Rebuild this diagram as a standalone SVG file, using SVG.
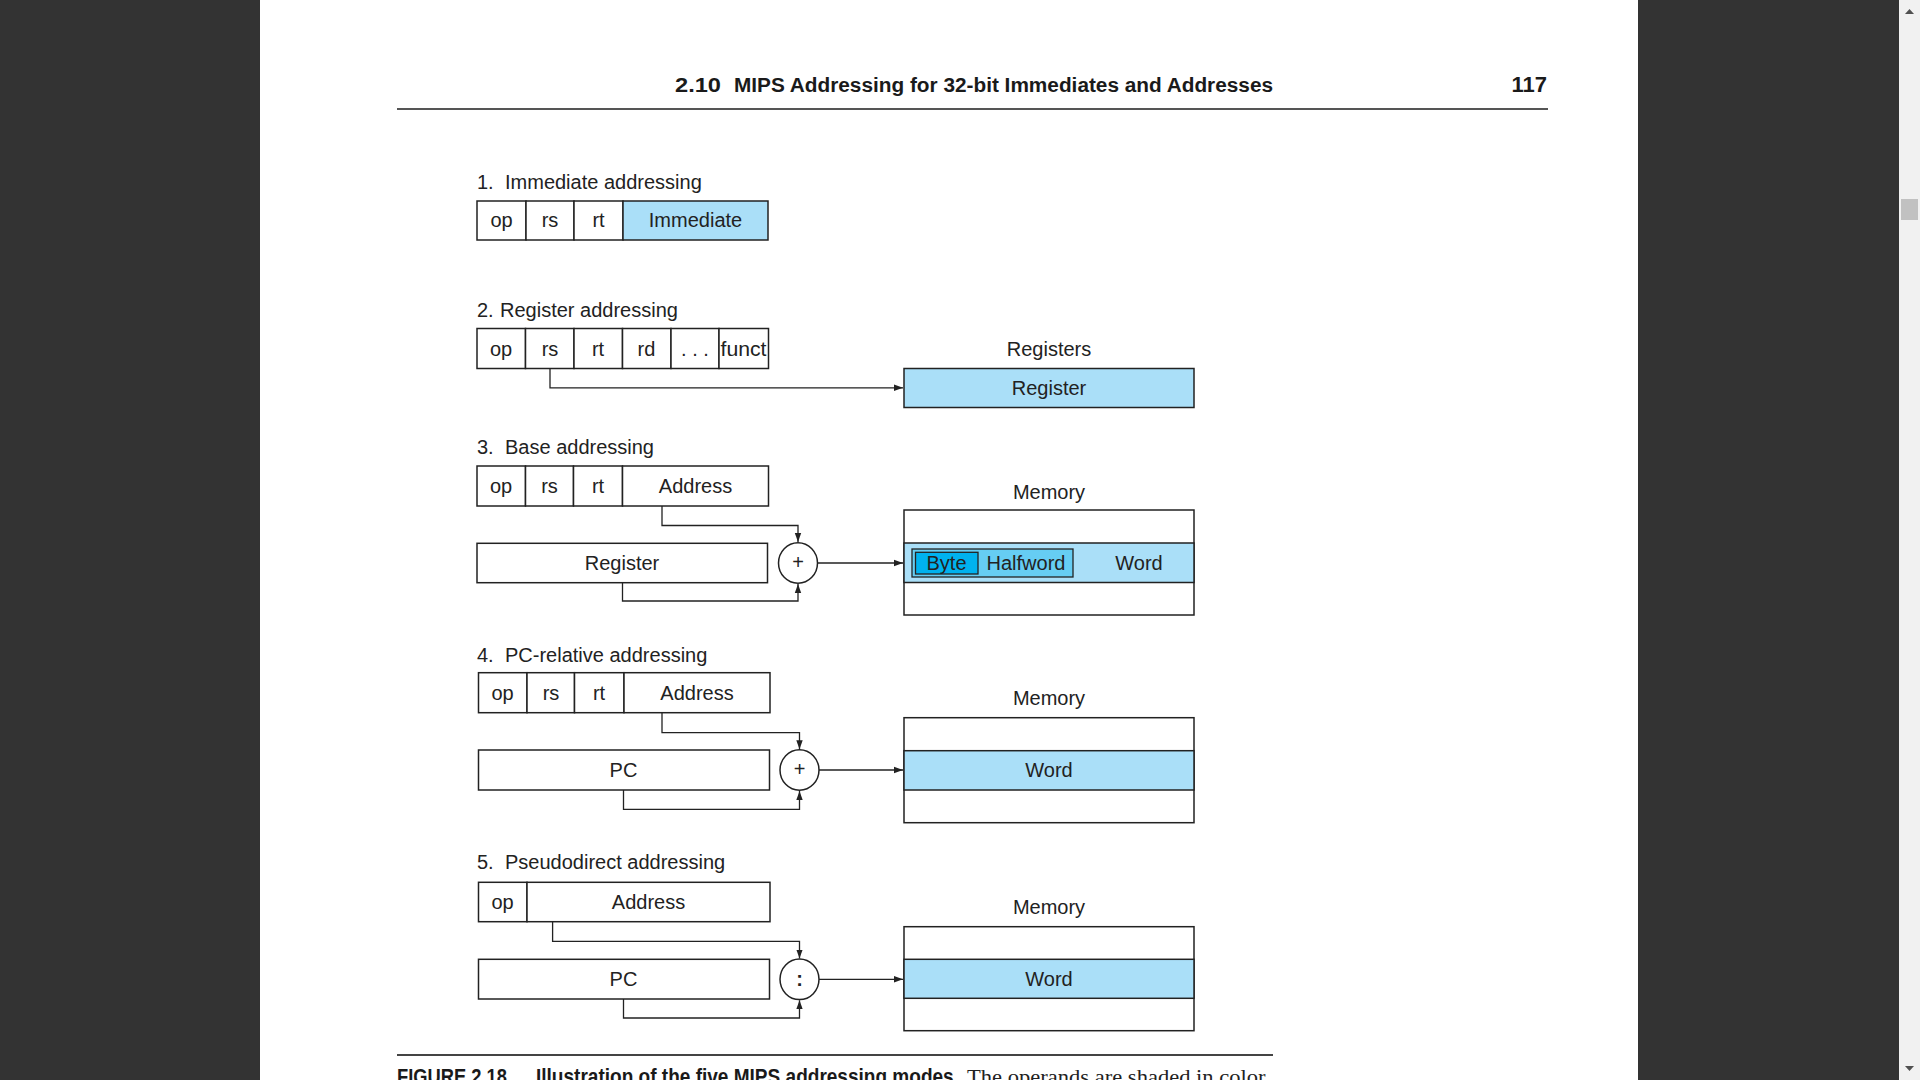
<svg xmlns="http://www.w3.org/2000/svg" width="1920" height="1080" viewBox="0 0 1920 1080">
<defs>
<style>
.t{font-family:"Liberation Sans",Arial,sans-serif;font-size:20px;fill:#222}
.c{text-anchor:middle}
.b{fill:#fff;stroke:#222;stroke-width:1.5}
.bl{fill:#aadff8;stroke:#222;stroke-width:1.5}
.cn{fill:none;stroke:#222;stroke-width:1.3}
.hd{font-family:"Liberation Sans",Arial,sans-serif;font-weight:bold;fill:#1a1a1a}
</style>
<marker id="ah" markerWidth="10" markerHeight="8" refX="9" refY="4" orient="auto" markerUnits="userSpaceOnUse">
<path d="M0,0.8 L9,4 L0,7.2 Z" fill="#222"/>
</marker>
</defs>
<rect x="0" y="0" width="1920" height="1080" fill="#333333"/>
<rect x="260" y="0" width="1378" height="1080" fill="#ffffff"/>
<rect x="1899" y="0" width="21" height="1080" fill="#f1f1f1"/>
<polygon points="1905,14 1914,14 1909.5,9" fill="#505050"/>
<rect x="1901" y="199" width="17" height="21" fill="#c1c1c1"/>
<polygon points="1905,1066 1914,1066 1909.5,1071" fill="#505050"/>

<g id="header">
<text class="hd" x="675" y="91.5" font-size="20" textLength="46" lengthAdjust="spacingAndGlyphs">2.10</text>
<text class="hd" x="734" y="91.5" font-size="20" textLength="539" lengthAdjust="spacingAndGlyphs">MIPS Addressing for 32-bit Immediates and Addresses</text>
<text class="hd" x="1547" y="91.5" font-size="22" text-anchor="end">117</text>
<line x1="397" y1="109" x2="1548" y2="109" stroke="#555" stroke-width="2.2"/>
</g>

<g id="mode1">
<text class="t" x="477" y="189">1.<tspan x="505">Immediate addressing</tspan></text>
<rect class="b" x="477" y="201" width="49" height="39"/>
<rect class="b" x="526" y="201" width="48" height="39"/>
<rect class="b" x="574" y="201" width="49" height="39"/>
<rect class="bl" x="623" y="201" width="145" height="39"/>
<text class="t c" x="501.5" y="227">op</text>
<text class="t c" x="550" y="227">rs</text>
<text class="t c" x="598.5" y="227">rt</text>
<text class="t c" x="695.5" y="227">Immediate</text>
</g>

<g id="mode2">
<text class="t" x="477" y="317">2.<tspan x="500">Register addressing</tspan></text>
<rect class="b" x="477" y="328.5" width="48.5" height="40"/>
<rect class="b" x="525.5" y="328.5" width="48.5" height="40"/>
<rect class="b" x="574" y="328.5" width="48.5" height="40"/>
<rect class="b" x="622.5" y="328.5" width="48.5" height="40"/>
<rect class="b" x="671" y="328.5" width="48" height="40"/>
<rect class="b" x="719" y="328.5" width="49.5" height="40"/>
<text class="t c" x="501" y="355.5">op</text>
<text class="t c" x="550" y="355.5">rs</text>
<text class="t c" x="598" y="355.5">rt</text>
<text class="t c" x="646.5" y="355.5">rd</text>
<text class="t c" x="695" y="355.5">. . .</text>
<text class="t c" x="743.5" y="355.5" textLength="46" lengthAdjust="spacingAndGlyphs">funct</text>
</g>

<g id="registers">
<text class="t c" x="1049" y="355.5">Registers</text>
<rect class="bl" x="904" y="368.5" width="290" height="39"/>
<text class="t c" x="1049" y="395">Register</text>
</g>

<g id="mode3">
<text class="t" x="477" y="453.5">3.<tspan x="505">Base addressing</tspan></text>
<rect class="b" x="477" y="466" width="48.5" height="40"/>
<rect class="b" x="525.5" y="466" width="48" height="40"/>
<rect class="b" x="573.5" y="466" width="49" height="40"/>
<rect class="b" x="622.5" y="466" width="146" height="40"/>
<text class="t c" x="501" y="493">op</text>
<text class="t c" x="549.5" y="493">rs</text>
<text class="t c" x="598" y="493">rt</text>
<text class="t c" x="695.5" y="493">Address</text>
<rect class="b" x="477" y="543.3" width="290.5" height="39.4"/>
<text class="t c" x="622" y="570">Register</text>
<ellipse class="b" cx="798" cy="563" rx="19.5" ry="20.3"/>
<text class="t c" x="798" y="569" font-size="17">+</text>
</g>

<g id="memory3">
<text class="t c" x="1049" y="498.5">Memory</text>
<rect class="b" x="904" y="510" width="290" height="105"/>
<rect class="bl" x="904" y="543" width="290" height="39.5"/>
<rect x="912" y="549" width="161" height="28" fill="#66cdf3" stroke="#222" stroke-width="1.3"/>
<rect x="915.5" y="552.3" width="62.5" height="21.7" fill="#00b2ef" stroke="#222" stroke-width="1.3"/>
<text class="t c" x="946.5" y="570">Byte</text>
<text class="t c" x="1026" y="570">Halfword</text>
<text class="t c" x="1139" y="570">Word</text>
</g>

<g id="mode4">
<text class="t" x="477" y="662">4.<tspan x="505">PC-relative addressing</tspan></text>
<rect class="b" x="478.5" y="672.7" width="48.5" height="40"/>
<rect class="b" x="527" y="672.7" width="47.5" height="40"/>
<rect class="b" x="574.5" y="672.7" width="49.5" height="40"/>
<rect class="b" x="624" y="672.7" width="146" height="40"/>
<text class="t c" x="502.5" y="700">op</text>
<text class="t c" x="551" y="700">rs</text>
<text class="t c" x="599" y="700">rt</text>
<text class="t c" x="697" y="700">Address</text>
<rect class="b" x="478.5" y="750" width="291" height="40"/>
<text class="t c" x="623.5" y="777">PC</text>
<ellipse class="b" cx="799.5" cy="770" rx="19.5" ry="20.3"/>
<text class="t c" x="799.5" y="776" font-size="17">+</text>
</g>

<g id="memory4">
<text class="t c" x="1049" y="705">Memory</text>
<rect class="b" x="904" y="717.7" width="290" height="105"/>
<rect class="bl" x="904" y="750.7" width="290" height="39.3"/>
<text class="t c" x="1049" y="777">Word</text>
</g>

<g id="mode5">
<text class="t" x="477" y="868.5">5.<tspan x="505">Pseudodirect addressing</tspan></text>
<rect class="b" x="478.5" y="882.3" width="48.5" height="39.4"/>
<rect class="b" x="527" y="882.3" width="243" height="39.4"/>
<text class="t c" x="502.5" y="909">op</text>
<text class="t c" x="648.5" y="909">Address</text>
<rect class="b" x="478.5" y="959.3" width="291" height="39.7"/>
<text class="t c" x="623.5" y="986">PC</text>
<ellipse class="b" cx="799.5" cy="979.3" rx="19.5" ry="20.3"/>
<text class="t c" x="799.5" y="986" font-size="21" font-weight="bold">:</text>
</g>

<g id="memory5">
<text class="t c" x="1049" y="913.5">Memory</text>
<rect class="b" x="904" y="926.7" width="290" height="104"/>
<rect class="bl" x="904" y="959.3" width="290" height="39"/>
<text class="t c" x="1049" y="986">Word</text>
</g>

<g id="connectors">
<path class="cn" d="M550,368.5 V387.8 H903" marker-end="url(#ah)"/>
<path class="cn" d="M662,506 V525.5 H798 V542" marker-end="url(#ah)"/>
<path class="cn" d="M622.5,582.7 V601 H798 V584" marker-end="url(#ah)"/>
<path class="cn" d="M817.5,563 H903" marker-end="url(#ah)"/>
<path class="cn" d="M662,712.7 V732.7 H799.5 V749.2" marker-end="url(#ah)"/>
<path class="cn" d="M623.5,790 V809.3 H799.5 V791" marker-end="url(#ah)"/>
<path class="cn" d="M819,770 H903" marker-end="url(#ah)"/>
<path class="cn" d="M552.6,921.7 V941.3 H799.5 V958.5" marker-end="url(#ah)"/>
<path class="cn" d="M623.5,999 V1018 H799.5 V1000.2" marker-end="url(#ah)"/>
<path class="cn" d="M819,979.3 H903" marker-end="url(#ah)"/>
</g>

<g id="caption">
<line x1="397" y1="1055" x2="1273" y2="1055" stroke="#444" stroke-width="2"/>
<text class="hd" x="397" y="1084" font-size="22" textLength="110" lengthAdjust="spacingAndGlyphs">FIGURE 2.18</text>
<text class="hd" x="536" y="1084" font-size="22" textLength="423" lengthAdjust="spacingAndGlyphs">Illustration of the five MIPS addressing modes.</text>
<text x="967" y="1084" font-family="'Liberation Serif','Times New Roman',serif" font-size="22" fill="#222" textLength="303" lengthAdjust="spacingAndGlyphs">The operands are shaded in color.</text>
</g>
</svg>
